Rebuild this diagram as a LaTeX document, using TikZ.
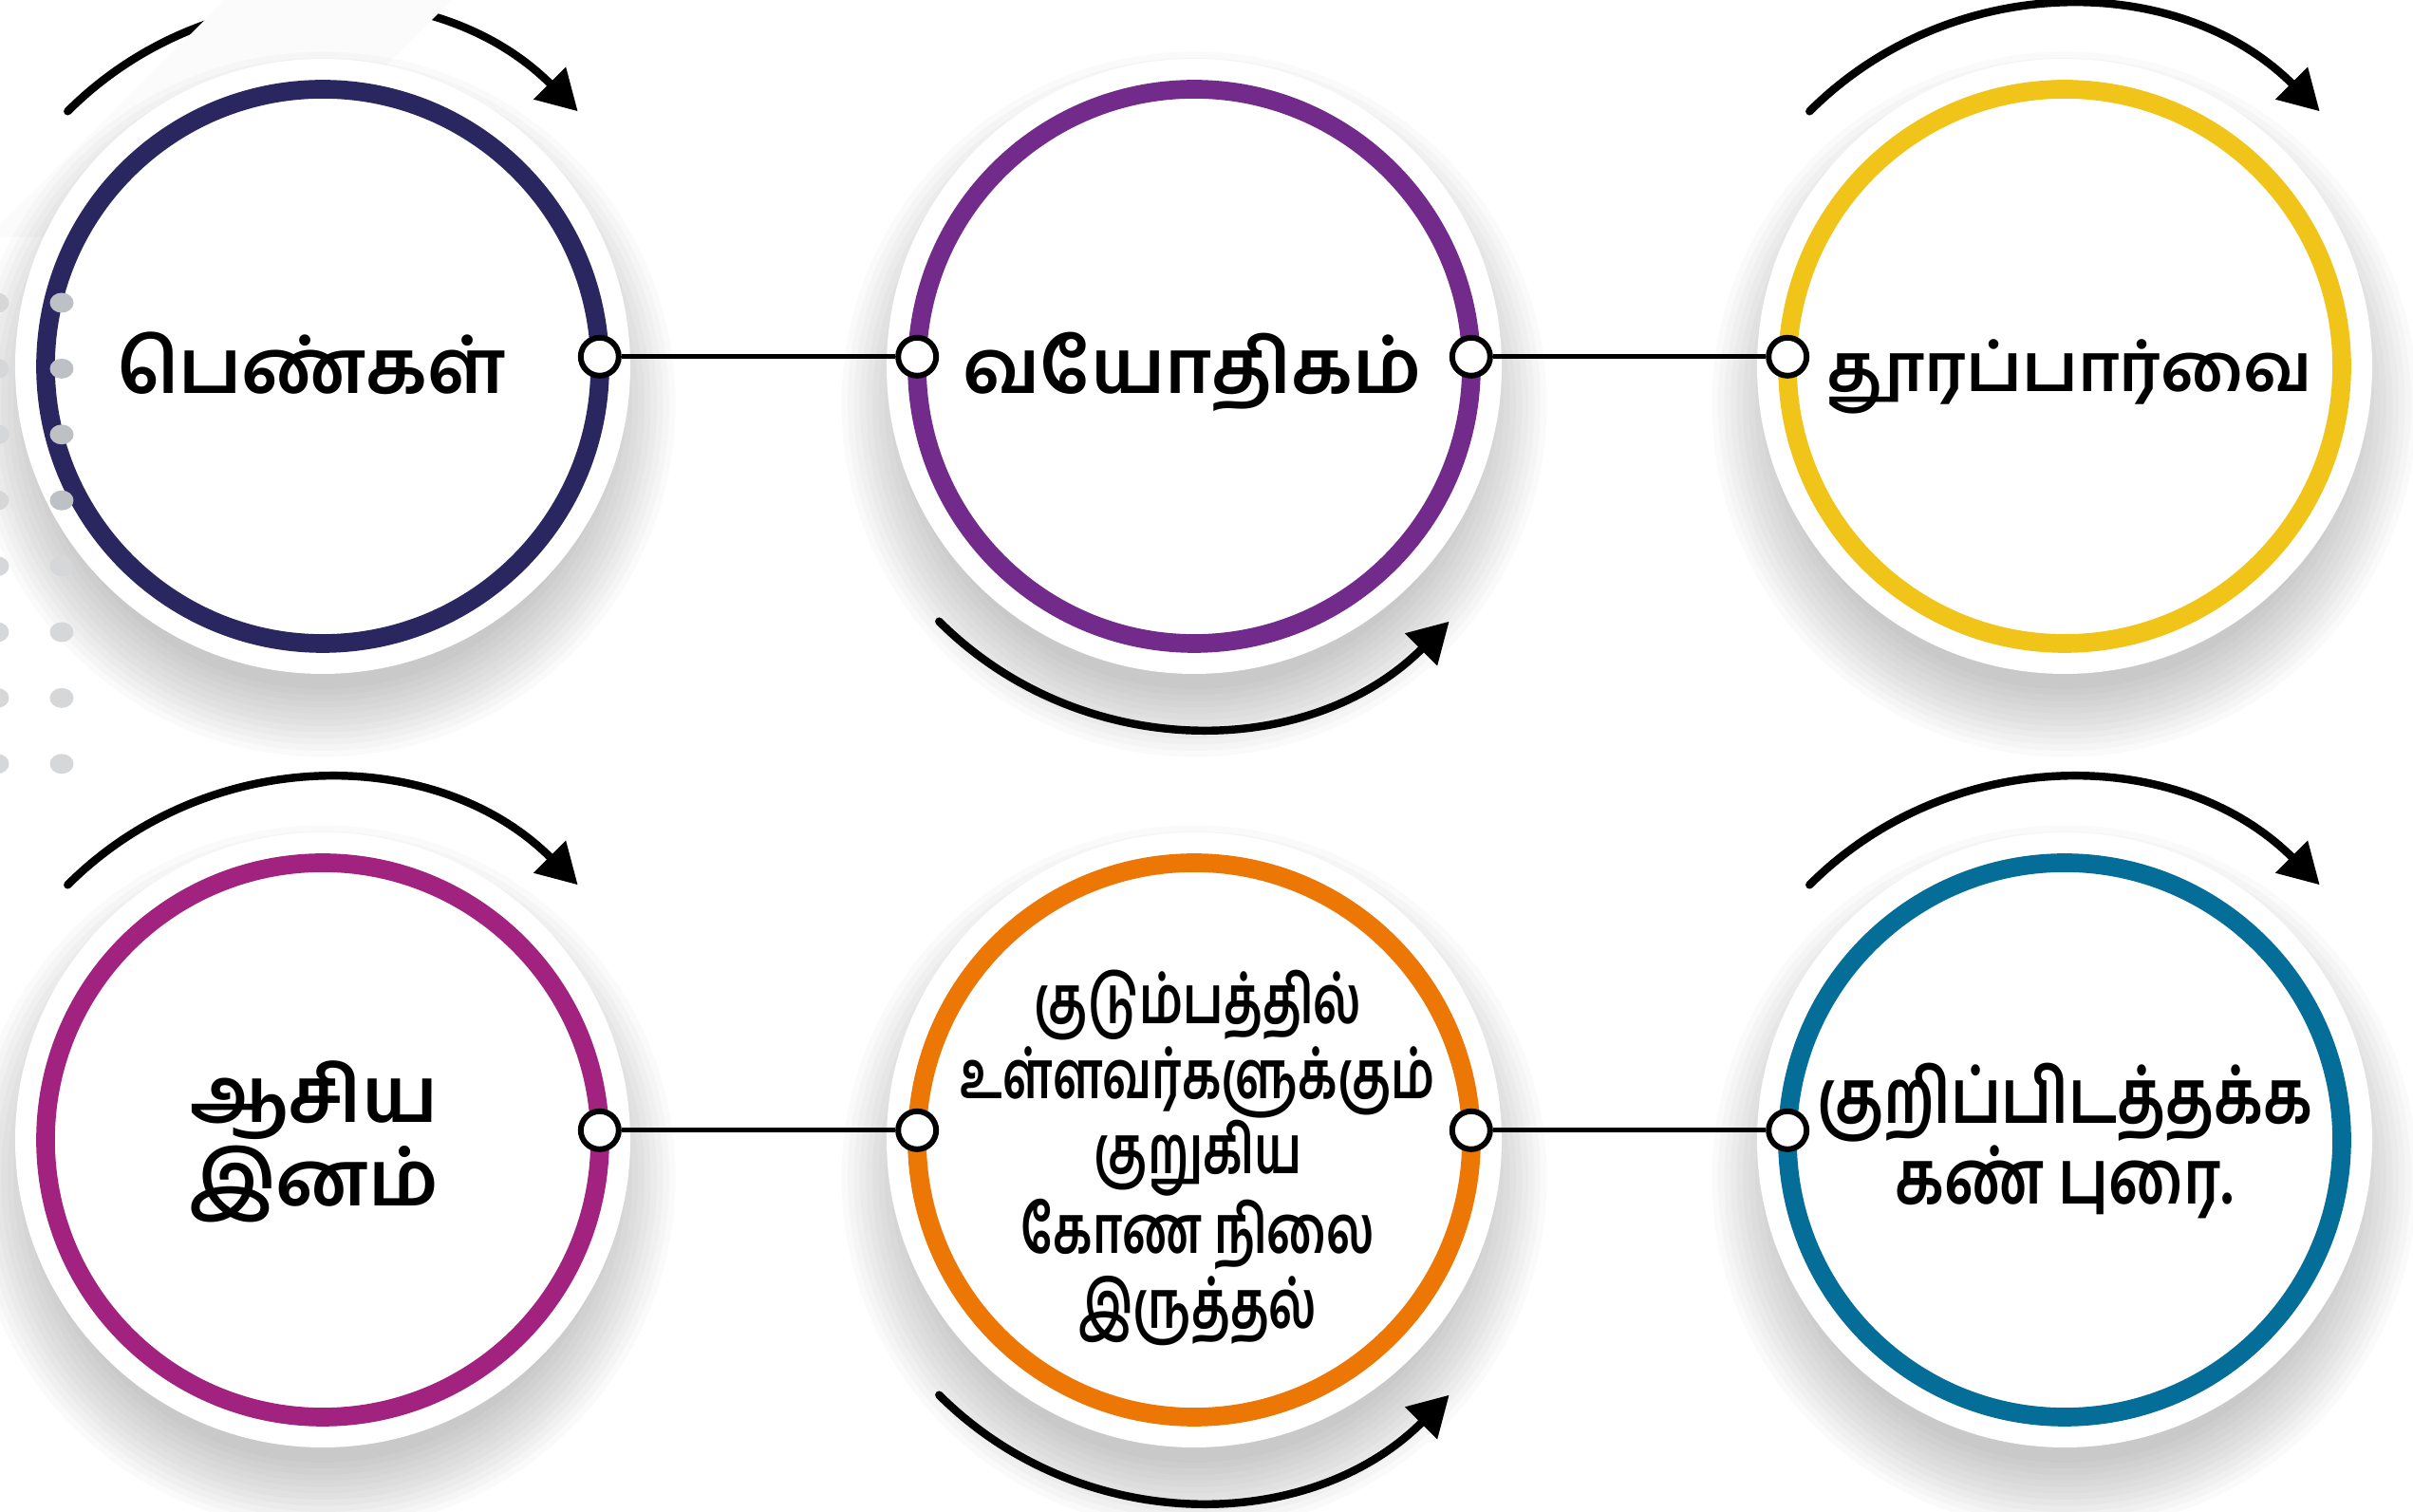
\documentclass[tikz,border=0pt]{standalone}
\usepackage{fontspec}
\newfontfamily\tamil[Script=Tamil]{Hind Madurai}
\newfontfamily\tamilnarrow[Script=Tamil,FakeStretch=0.72]{Hind Madurai}
\newfontfamily\tamilslim[Script=Tamil,FakeStretch=0.8]{Hind Madurai}
\usetikzlibrary{positioning,calc,arrows.meta}
\definecolor{navy}{HTML}{2A2660}
\definecolor{plum}{HTML}{722B8B}
\definecolor{gold}{HTML}{F0C419}
\definecolor{berry}{HTML}{A1237F}
\definecolor{amber}{HTML}{EC7705}
\definecolor{teal}{HTML}{046E98}
\definecolor{dotdark}{HTML}{BDC1C5}
\definecolor{dotlight}{HTML}{D6D7D9}
\begin{document}
\begin{tikzpicture}[
  ring/.style={circle,draw=#1,line width=5.6pt,fill=white,minimum size=5.84cm,inner sep=0pt,outer sep=0pt},
  knob/.style={circle,draw,line width=1.7pt,fill=white,minimum size=0.40cm,inner sep=0pt},
  link/.style={line width=1.4pt},
  turn/.style={-{Triangle[length=0.42cm,width=0.46cm]},line width=2.4pt,line cap=round},
  big/.style={font=\tamil\bfseries\fontsize{22.5}{26}\selectfont},
  small/.style={font=\tamil\bfseries\fontsize{20}{24}\selectfont},
  mid/.style={font=\tamil\bfseries\fontsize{23}{25}\selectfont,align=center},
  narrow/.style={font=\tamilnarrow\bfseries\fontsize{20}{22.5}\selectfont,align=center},
  slim/.style={font=\tamilslim\bfseries\fontsize{22.5}{21.6}\selectfont,align=center}
]
\useasboundingbox (0,0) rectangle (25.42,15.93);
\coordinate (o1) at (3.40,12.07);
\coordinate (o2) at (12.58,12.07);
\coordinate (o3) at (21.75,12.07);
\coordinate (o4) at (3.40,3.92);
\coordinate (o5) at (12.58,3.92);
\coordinate (o6) at (21.75,3.92);

\foreach \o in {o1,o3,o4,o6}
  \draw[turn] (\o) ++(135:3.8) arc[start angle=135,end angle=45,radius=3.8];
\foreach \o in {o2,o5}
  \draw[turn] (\o) ++(225:3.8) arc[start angle=225,end angle=315,radius=3.8];
\fill[gray!3] (2.37,15.93) -- (4.76,15.93) -- (2.26,13.43) -- (-0.13,13.43) -- cycle;

\foreach \o in {o1,o2,o3,o4,o5,o6}{
  \foreach \k in {0,...,11}
    \fill[black,opacity=0.018] ($(\o)+(0,-0.4)$) circle ({3.0+0.065*\k});
  \fill[white] (\o) circle (3.24);
}

\node[ring=navy] (c1) at (o1) {};
\node[ring=plum] (c2) at (o2) {};
\node[ring=gold] (c3) at (o3) {};
\node[ring=berry] (c4) at (o4) {};
\node[ring=amber] (c5) at (o5) {};
\node[ring=teal] (c6) at (o6) {};

\foreach \i in {0,...,7}
  \fill[dotlight] (-0.03,{12.74-0.694*\i}) ellipse[x radius=0.125,y radius=0.105];
\foreach \i in {0,...,3}
  \fill[dotdark] (0.65,{12.74-0.694*\i}) ellipse[x radius=0.125,y radius=0.105];
\foreach \i in {4,...,7}
  \fill[dotlight] (0.65,{12.74-0.694*\i}) ellipse[x radius=0.125,y radius=0.105];

\node[knob] (k1) at (c1.2) {};
\node[knob] (k2) at (c2.178) {};
\node[knob] (k3) at (c2.2) {};
\node[knob] (k4) at (c3.178) {};
\node[knob] (k5) at (c4.2) {};
\node[knob] (k6) at (c5.178) {};
\node[knob] (k7) at (c5.2) {};
\node[knob] (k8) at (c6.178) {};
\draw[link] (k1) -- (k2);
\draw[link] (k3) -- (k4);
\draw[link] (k5) -- (k6);
\draw[link] (k7) -- (k8);

\node[big,anchor=base] (t1) at (3.28,11.78) {பெண்கள்};
\node[big,anchor=base] (t2) at (12.56,11.78) {வயோதிகம்};
\node[small,anchor=base] (t3) at (21.80,11.80) {தூரப்பார்வை};
\node[mid] (t4) at (3.31,3.90) {ஆசிய\\இனம்};
\node[narrow] (t5) at (12.62,3.73) {குடும்பத்தில்\\உள்ளவர்களுக்கும்\\குறுகிய\\கோண நிலை\\இருத்தல்};
\node[slim] (t6) at (21.75,3.91) {குறிப்பிடத்தக்க\\கண் புரை.};
\end{tikzpicture}
\end{document}
